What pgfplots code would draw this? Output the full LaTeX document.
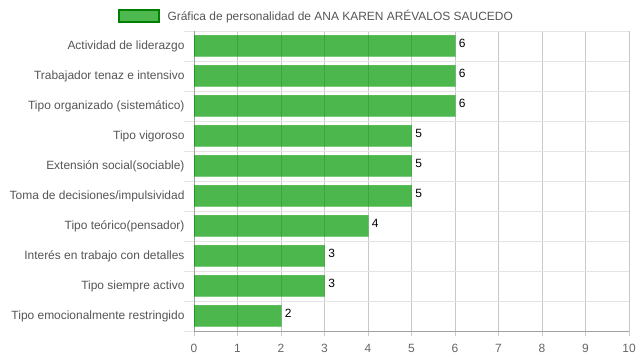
\documentclass[border=0pt]{standalone}
\usepackage{pgfplots}
\pgfplotsset{compat=1.18}
\usepackage{fontspec}
\setmainfont{Liberation Sans}
\definecolor{barfill}{RGB}{0,153,0}
\definecolor{legfill}{RGB}{77,184,77}
\definecolor{legdraw}{RGB}{0,128,0}
\definecolor{gridv}{RGB}{200,200,200}
\definecolor{gridh}{RGB}{228,228,228}
\definecolor{tickc}{RGB}{102,102,102}
\definecolor{ylabc}{RGB}{85,85,85}
\begin{document}
\begin{tikzpicture}
\path[use as bounding box] (0,0) rectangle (639bp,360bp);
\begin{axis}[
  at={(194bp,29bp)}, anchor=south west,
  scale only axis, width=435bp, height=300bp,
  xbar, bar width=21bp,
  xmin=0, xmax=10, ymin=-0.5, ymax=9.5,
  xtick={0,...,10}, ytick={0,...,9},
  yticklabels={Tipo emocionalmente restringido, Tipo siempre activo, Interés en trabajo con detalles, Tipo teórico(pensador), Toma de decisiones/impulsividad, Extensión social(sociable), Tipo vigoroso, Tipo organizado (sistemático), Trabajador tenaz e intensivo, Actividad de liderazgo},
  minor ytick={-0.5,0.5,...,9.5},
  xmajorgrids, yminorgrids,
  major grid style={draw=gridv, line width=0.7bp},
  minor grid style={draw=gridh, line width=0.7bp},
  axis x line*=bottom, axis y line*=left,
  axis line style={-, draw=gridv!80!black, line width=0.7bp},
  tick align=outside,
  major tick length=5bp, minor tick length=10bp,
  xtick style={draw=gridv, line width=0.7bp},
  ytick style={draw=none},
  minor y tick style={draw=gridh, line width=0.7bp},
  /pgf/number format/assume math mode=true,
  xticklabel style={font=\fontsize{12}{14}\selectfont, text=tickc, yshift=-5bp},
  yticklabel style={font=\fontsize{12}{14}\selectfont, text=ylabc, xshift=-1bp},
  legend style={draw=none, fill=none, inner sep=0pt, at={(-0.175,1.05)}, anchor=west,
    font=\fontsize{12}{14}\selectfont, text=ylabc},
  legend image code/.code={\draw[draw=legdraw, draw opacity=1, fill opacity=1, line width=2bp, fill=legfill] (0bp,-6bp) rectangle (40bp,6bp); \path (46bp,0bp);},
  nodes near coords,
  nodes near coords style={text=black, fill opacity=1, text opacity=1, font=\fontsize{12}{14}\selectfont, anchor=west, xshift=0bp, yshift=3bp},
]
\addplot[fill=barfill, fill opacity=0.7, draw=barfill, draw opacity=0.35, line width=1bp]
  coordinates {(6,9) (6,8) (6,7) (5,6) (5,5) (5,4) (4,3) (3,2) (3,1) (2,0)};
\addlegendentry{Gráfica de personalidad de ANA KAREN ARÉVALOS SAUCEDO}
\end{axis}
\end{tikzpicture}
\end{document}
